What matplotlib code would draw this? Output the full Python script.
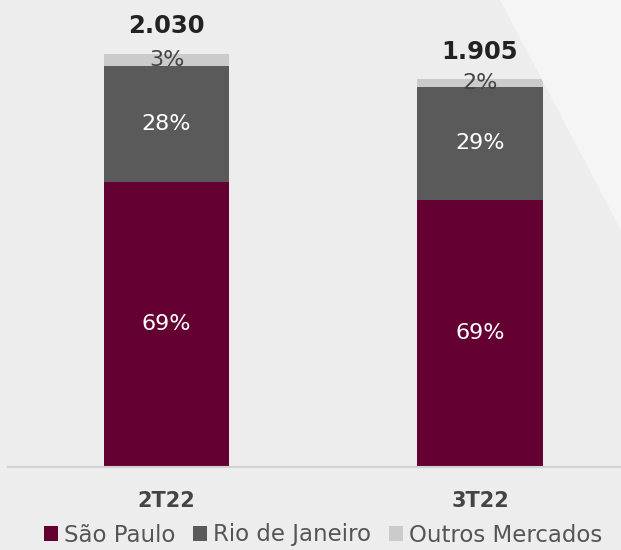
import numpy as np
import matplotlib.pyplot as plt
from matplotlib.patches import Polygon

# data
trimestres = ["2T22", "3T22"]
totais = [2030, 1905]
totais_txt = ["2.030", "1.905"]
sao_paulo = [69, 69]  # %
rio = [28, 29]
outros = [3, 2]
series = ["São Paulo", "Rio de Janeiro", "Outros Mercados"]
cores = ["#650032", "#5a5a5a", "#cbcbcb"]

fig = plt.figure(figsize=(6.21, 5.5), dpi=100)
fig.patch.set_facecolor("#ededed")
# lighter diagonal shape in the background
fig.patches.append(Polygon([(500 / 621, 1), (1, 1), (1, 1 - 230 / 550)],
                           closed=True, transform=fig.transFigure,
                           facecolor="#f5f5f5", edgecolor="none", zorder=0))

ax = fig.add_axes([8 / 621, 83 / 550, 613 / 621, 467 / 550])
ax.set_facecolor("none")

x = np.arange(len(trimestres))
tot = np.array(totais, dtype=float)
partes = [np.array(sao_paulo), np.array(rio), np.array(outros)]
base = np.zeros(len(x))
for k, (pct, cor) in enumerate(zip(partes, cores)):
    alt = tot * pct / 100
    ax.bar(x, alt, 0.4, bottom=base, color=cor, label=series[k], zorder=2)
    for i in range(len(x)):
        txt_cor = "#444444" if k == 2 else "white"
        ax.text(x[i], base[i] + alt[i] / 2, f"{pct[i]}%", ha="center", va="center",
                color=txt_cor, fontsize=16, zorder=3)
    base = base + alt

for i in range(len(x)):
    ax.annotate(totais_txt[i], (x[i], tot[i]), xytext=(0, 20), textcoords="offset points",
                ha="center", va="center", fontsize=17.5, fontweight="bold", color="#222222")

ax.set_xlim(-0.506, 1.45)
ax.set_ylim(0, 2295)
ax.set_yticks([])
ax.set_xticks(x)
ax.set_xticklabels(trimestres, fontsize=15, fontweight="bold", color="#444444")
ax.tick_params(axis="x", length=0, pad=17)
for s in ["top", "right", "left"]:
    ax.spines[s].set_visible(False)
ax.spines["bottom"].set_color("#d2d2d2")
ax.spines["bottom"].set_linewidth(1.5)

leg = ax.legend(loc="center", bbox_to_anchor=(323 / 621, 15 / 550), bbox_transform=fig.transFigure,
                ncol=3, frameon=False, fontsize=16.5, handlelength=0.6, handleheight=0.6,
                handletextpad=0.25, columnspacing=0.8, borderpad=0)
for t in leg.get_texts():
    t.set_color("#555555")

plt.savefig("out.png", dpi=100, facecolor=fig.get_facecolor())
